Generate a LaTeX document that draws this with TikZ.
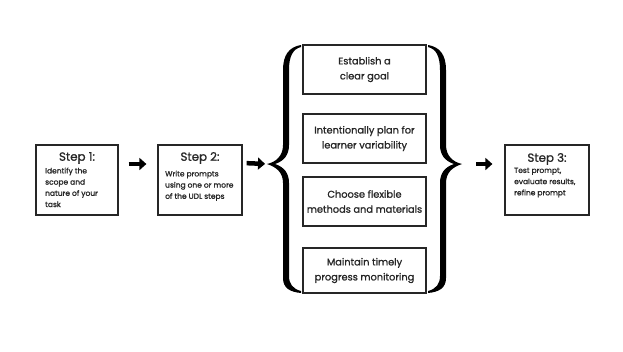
\documentclass[tikz,border=0pt]{standalone}
\usepackage{fontspec}
\setmainfont{Poppins}[FakeBold=1.2]
\usetikzlibrary{arrows.meta}
\tikzset{
  box/.style={draw=black!85, line width=1.2pt, inner sep=0pt},
  ctext/.style={align=center, font=\fontsize{9.8}{15}\selectfont, text=black!85},
  ttl/.style={font=\fontsize{11.8}{13}\selectfont, text=black!85},
  body/.style={align=left, anchor=north west, inner sep=0pt, font=\fontsize{7.5}{11.2}\selectfont, text=black!85},
  arr/.style={-{Triangle[length=7pt,width=12pt]}, line width=4.5pt, black},
  bracefill/.style={fill=black, draw=none}
}
\begin{document}
\begin{tikzpicture}[x=1pt,y=-1pt]
\useasboundingbox (0,0) rectangle (623,351);
% step boxes
\node[box, minimum width=82pt, minimum height=70pt] (s1) at (77,180) {};
\node[box, minimum width=84pt, minimum height=70pt] (s2) at (200,180) {};
\node[box, minimum width=84pt, minimum height=70pt] (s3) at (547,180) {};
\node[ttl] (t1) at (77,158) {Step 1:};
\node[ttl] (t2) at (200,158) {Step 2:};
\node[ttl] (t3) at (547,159) {Step 3:};
\node[body] (b1) at (45,167.5) {Identify the\\scope and\\nature of your\\task};
\node[body] (b2) at (165,170.5) {Write prompts\\using one or more\\of the UDL steps};
\node[body] (b3) at (514,167.5) {Test prompt,\\evaluate results,\\refine prompt};
% center boxes
\node[box, minimum width=123pt, minimum height=49pt] (c1) at (364.5,69.5) {};
\node[box, minimum width=123pt, minimum height=49pt] (c2) at (364.5,138.5) {};
\node[box, minimum width=123pt, minimum height=49pt] (c3) at (364.5,201.5) {};
\node[box, minimum width=123pt, minimum height=45pt] (c4) at (364.5,270.5) {};
\node[ctext] (ct1) at (c1) {Establish a\\clear goal};
\node[ctext] (ct2) at (c2) {Intentionally plan for\\learner variability};
\node[ctext] (ct3) at (c3) {Choose flexible\\methods and materials};
\node[ctext] (ct4) at (c4) {Maintain timely\\progress monitoring};
% braces
\coordinate (ltip) at (267,164);
\coordinate (rtip) at (462,164);
\fill[bracefill] (301,45) .. controls (289,47) and (283,55) .. (283,70) -- (283,145)
  .. controls (283,156) and (276,162) .. (267,164)
  .. controls (276,167) and (283,172) .. (283,183) -- (283,278)
  .. controls (283,288) and (290,292) .. (301,293)
  -- (301,291) .. controls (293,289) and (289,284) .. (289,276) -- (289,183)
  .. controls (289,173) and (284,167) .. (275,164)
  .. controls (284,161) and (289,155) .. (289,145) -- (289,70)
  .. controls (289,56) and (293,49) .. (301,47) -- cycle;
\begin{scope}[xshift=729pt, xscale=-1]
\fill[bracefill] (301,45) .. controls (289,47) and (283,55) .. (283,70) -- (283,145)
  .. controls (283,156) and (276,162) .. (267,164)
  .. controls (276,167) and (283,172) .. (283,183) -- (283,278)
  .. controls (283,288) and (290,292) .. (301,293)
  -- (301,291) .. controls (293,289) and (289,284) .. (289,276) -- (289,183)
  .. controls (289,173) and (284,167) .. (275,164)
  .. controls (284,161) and (289,155) .. (289,145) -- (289,70)
  .. controls (289,56) and (293,49) .. (301,47) -- cycle;
\end{scope}
% arrows
\draw[arr, shorten <=10pt, shorten >=11pt] (s1.east |- 0,164) -- (s2.west |- 0,164);
\draw[arr, shorten <=4pt, shorten >=2pt] (s2.east |- 0,163) -- (ltip);
\draw[arr, shorten <=14pt, shorten >=12pt] (rtip) -- (s3.west |- 0,164);
\end{tikzpicture}
\end{document}
